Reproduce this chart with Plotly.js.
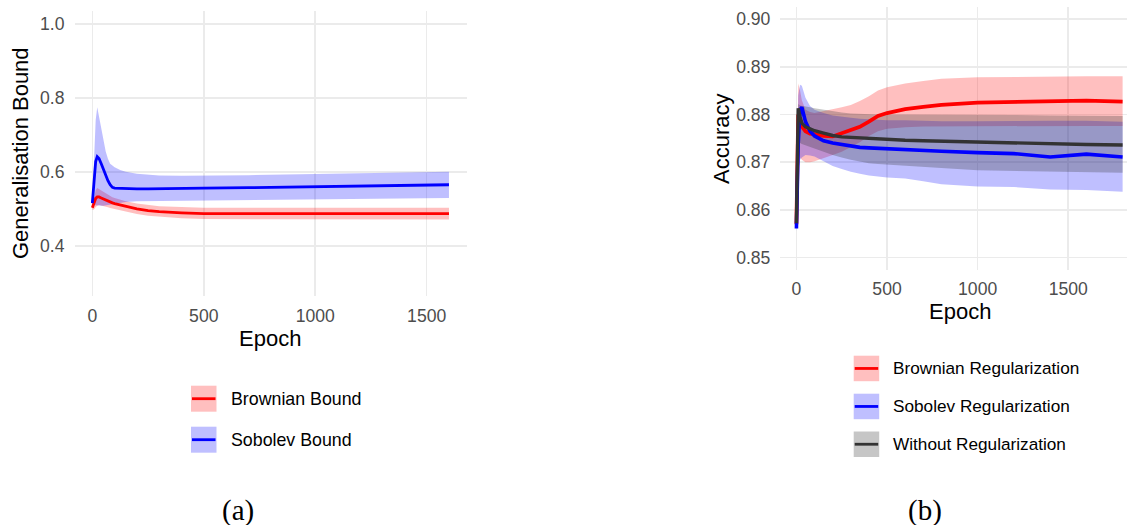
<!DOCTYPE html>
<html>
<head>
<meta charset="utf-8">
<script src="https://cdn.plot.ly/plotly-3.0.1.min.js"></script>
<style>
html,body{margin:0;padding:0;background:#fff;}
#chart{width:1127px;height:525px;}
</style>
</head>
<body>
<div id="chart"></div>
<script>
// ---------- Panel (a): generalisation bounds ----------
const epochsA = [0, 5, 10, 15, 22, 30, 40, 50, 60, 70, 80, 90, 100, 125, 150, 200, 250, 300, 400, 500, 700, 1000, 1300, 1600];
const brownBound   = [0.503, 0.510, 0.520, 0.528, 0.532, 0.532, 0.529, 0.526, 0.523, 0.520, 0.518, 0.516, 0.514, 0.510, 0.506, 0.500, 0.495, 0.492, 0.489, 0.487, 0.487, 0.487, 0.487, 0.487];
const brownBoundHi = [0.508, 0.525, 0.540, 0.550, 0.556, 0.553, 0.548, 0.544, 0.540, 0.537, 0.534, 0.531, 0.529, 0.524, 0.520, 0.514, 0.510, 0.507, 0.505, 0.503, 0.503, 0.503, 0.503, 0.503];
const brownBoundLo = [0.497, 0.497, 0.500, 0.505, 0.508, 0.510, 0.510, 0.508, 0.506, 0.504, 0.502, 0.500, 0.499, 0.496, 0.492, 0.486, 0.481, 0.478, 0.474, 0.472, 0.471, 0.471, 0.471, 0.471];
const sobBound     = [0.515, 0.560, 0.600, 0.628, 0.641, 0.636, 0.622, 0.605, 0.590, 0.576, 0.565, 0.558, 0.556, 0.555, 0.554, 0.554, 0.554, 0.554, 0.555, 0.556, 0.557, 0.560, 0.562, 0.565];
const sobBoundHi   = [0.520, 0.600, 0.680, 0.740, 0.775, 0.750, 0.710, 0.680, 0.655, 0.635, 0.622, 0.617, 0.612, 0.605, 0.600, 0.595, 0.592, 0.590, 0.589, 0.589, 0.591, 0.594, 0.597, 0.600];
const sobBoundLo   = [0.510, 0.510, 0.510, 0.510, 0.510, 0.509, 0.508, 0.508, 0.508, 0.509, 0.510, 0.511, 0.512, 0.515, 0.518, 0.520, 0.521, 0.521, 0.522, 0.522, 0.523, 0.525, 0.527, 0.529];

// ---------- Panel (b): accuracy ----------
const epochsB = [0, 10, 20, 30, 50, 75, 100, 150, 200, 250, 300, 350, 400, 450, 500, 600, 700, 800, 1000, 1200, 1400, 1600, 1800];
const brownAcc   = [0.8570, 0.8800, 0.8790, 0.8775, 0.8765, 0.8760, 0.8759, 0.8755, 0.8754, 0.8760, 0.8766, 0.8774, 0.8785, 0.8797, 0.8803, 0.8811, 0.8816, 0.8820, 0.8825, 0.8826, 0.8828, 0.8829, 0.8827];
const brownAccHi = [0.8585, 0.8865, 0.8850, 0.8830, 0.8810, 0.8805, 0.8803, 0.8807, 0.8810, 0.8815, 0.8820, 0.8828, 0.8838, 0.8850, 0.8857, 0.8865, 0.8870, 0.8875, 0.8878, 0.8879, 0.8880, 0.8880, 0.8880];
const brownAccLo = [0.8555, 0.8720, 0.8710, 0.8705, 0.8700, 0.8700, 0.8702, 0.8708, 0.8715, 0.8722, 0.8732, 0.8742, 0.8755, 0.8765, 0.8770, 0.8773, 0.8775, 0.8776, 0.8776, 0.8776, 0.8776, 0.8776, 0.8776];
const sobAcc     = [0.8561, 0.8740, 0.8810, 0.8815, 0.8785, 0.8765, 0.8755, 0.8745, 0.8740, 0.8737, 0.8735, 0.8731, 0.8730, 0.8729, 0.8728, 0.8727, 0.8725, 0.8723, 0.8720, 0.8718, 0.8711, 0.8717, 0.8711];
const sobAccHi   = [0.8570, 0.8840, 0.8862, 0.8860, 0.8835, 0.8818, 0.8810, 0.8803, 0.8798, 0.8795, 0.8793, 0.8791, 0.8790, 0.8789, 0.8788, 0.8788, 0.8787, 0.8786, 0.8786, 0.8787, 0.8787, 0.8787, 0.8785];
const sobAccLo   = [0.8552, 0.8680, 0.8705, 0.8710, 0.8715, 0.8714, 0.8712, 0.8702, 0.8692, 0.8686, 0.8680, 0.8676, 0.8672, 0.8670, 0.8668, 0.8666, 0.8660, 0.8654, 0.8649, 0.8648, 0.8643, 0.8642, 0.8638];
const noneAcc    = [0.8572, 0.8813, 0.8795, 0.8782, 0.8774, 0.8770, 0.8766, 0.8761, 0.8756, 0.8753, 0.8752, 0.8750, 0.8749, 0.8748, 0.8747, 0.8746, 0.8745, 0.8744, 0.8742, 0.8740, 0.8738, 0.8737, 0.8736];
const noneAccHi  = [0.8580, 0.8822, 0.8819, 0.8818, 0.8816, 0.8815, 0.8813, 0.8810, 0.8806, 0.8804, 0.8802, 0.8801, 0.8800, 0.8800, 0.8800, 0.8800, 0.8800, 0.8800, 0.8800, 0.8799, 0.8798, 0.8797, 0.8797];
const noneAccLo  = [0.8564, 0.8745, 0.8740, 0.8738, 0.8735, 0.8732, 0.8728, 0.8722, 0.8715, 0.8710, 0.8705, 0.8701, 0.8698, 0.8696, 0.8695, 0.8692, 0.8690, 0.8688, 0.8683, 0.8681, 0.8680, 0.8679, 0.8678];

// ---------- tick labels & names ----------
const ticksAx = [0, 500, 1000, 1500];
const ticksAy = [0.4, 0.6, 0.8, 1.0];
const ticksBx = [0, 500, 1000, 1500];
const ticksBy = [0.85, 0.86, 0.87, 0.88, 0.89, 0.90];
const legendA = ["Brownian Bound", "Sobolev Bound"];
const legendB = ["Brownian Regularization", "Sobolev Regularization", "Without Regularization"];
const captions = ["(a)", "(b)"];

// ---------- styles ----------
const W = 1127, H = 525;
const RED = "#FF0000", BLUE = "#0000FF", DARK = "#333333";
const RED_F = "rgba(255,0,0,0.25)", BLUE_F = "rgba(0,0,255,0.25)", GRAY_F = "rgba(51,51,51,0.28)";
const FONT = "Liberation Sans, Arial, Helvetica, sans-serif";
const SERIF = "Liberation Serif, DejaVu Serif, serif";
const px = v => v / W;
const py = v => 1 - v / H;

function band(x, lo, hi, color, xa, ya) {
  return {
    x: x.concat(x.slice().reverse()),
    y: hi.concat(lo.slice().reverse()),
    type: "scatter", mode: "lines", fill: "toself", fillcolor: color,
    line: {width: 0, color: "rgba(0,0,0,0)"}, hoverinfo: "skip", showlegend: false,
    xaxis: xa, yaxis: ya
  };
}
function line(x, y, color, w, name, xa, ya) {
  return {x: x, y: y, type: "scatter", mode: "lines", name: name,
    line: {color: color, width: w}, showlegend: false, xaxis: xa, yaxis: ya};
}

const data = [
  band(epochsA, brownBoundLo, brownBoundHi, RED_F, "x", "y"),
  band(epochsA, sobBoundLo, sobBoundHi, BLUE_F, "x", "y"),
  line(epochsA, brownBound, RED, 2.8, legendA[0], "x", "y"),
  line(epochsA, sobBound, BLUE, 2.8, legendA[1], "x", "y"),
  band(epochsB, brownAccLo, brownAccHi, RED_F, "x2", "y2"),
  band(epochsB, sobAccLo, sobAccHi, BLUE_F, "x2", "y2"),
  band(epochsB, noneAccLo, noneAccHi, GRAY_F, "x2", "y2"),
  line(epochsB, brownAcc, RED, 3.8, legendB[0], "x2", "y2"),
  line(epochsB, sobAcc, BLUE, 3.6, legendB[1], "x2", "y2"),
  line(epochsB, noneAcc, DARK, 3.4, legendB[2], "x2", "y2")
];

const axBase = {
  showgrid: true, gridcolor: "#ebebeb", gridwidth: 1.6, zeroline: false,
  showline: false, ticks: "", fixedrange: true,
  tickfont: {family: FONT, size: 17.6, color: "#4d4d4d"}
};

const shapes = [];
const annotations = [];
function legendItem(x0, y0, y1, fill, color, label, fs) {
  shapes.push({type: "rect", xref: "paper", yref: "paper", x0: px(x0), x1: px(x0 + 25.5),
    y0: py(y1), y1: py(y0), fillcolor: fill, line: {width: 0}, layer: "above"});
  const yc = (y0 + y1) / 2;
  shapes.push({type: "line", xref: "paper", yref: "paper", x0: px(x0 + 1), x1: px(x0 + 24.5),
    y0: py(yc), y1: py(yc), line: {color: color, width: 2.8}, layer: "above"});
  annotations.push({xref: "paper", yref: "paper", x: px(x0 + 37.5), y: py(yc), xanchor: "left", yanchor: "middle",
    text: label, showarrow: false, font: {family: FONT, size: fs, color: "#000"}});
}
legendItem(191, 385.7, 411.7, RED_F, RED, legendA[0], 17.8);
legendItem(191, 426.7, 452.7, BLUE_F, BLUE, legendA[1], 17.8);
legendItem(853.7, 355.7, 381.2, RED_F, RED, legendB[0], 17.2);
legendItem(853.7, 393.7, 419.2, BLUE_F, BLUE, legendB[1], 17.2);
legendItem(853.7, 431.5, 457, GRAY_F, DARK, legendB[2], 17.2);

function title(x, y, text, rot) {
  annotations.push({xref: "paper", yref: "paper", x: px(x), y: py(y), xanchor: "center", yanchor: "middle",
    text: text, showarrow: false, textangle: rot || 0, font: {family: FONT, size: 22, color: "#000"}});
}
title(270, 338, "Epoch");
title(21, 153, "Generalisation Bound", -90);
title(960, 311, "Epoch");
title(721, 139, "Accuracy", -90);

annotations.push({xref: "paper", yref: "paper", x: px(238), y: py(510), xanchor: "center", yanchor: "middle",
  text: captions[0], showarrow: false, font: {family: SERIF, size: 29, color: "#000"}});
annotations.push({xref: "paper", yref: "paper", x: px(925), y: py(510), xanchor: "center", yanchor: "middle",
  text: captions[1], showarrow: false, font: {family: SERIF, size: 29, color: "#000"}});

const layout = {
  width: W, height: H,
  margin: {l: 0, r: 0, t: 0, b: 0, pad: 0},
  paper_bgcolor: "#fff", plot_bgcolor: "rgba(0,0,0,0)",
  showlegend: false,
  font: {family: FONT},
  xaxis: Object.assign({}, axBase, {domain: [px(74.5), px(466.8)], range: [-80, 1680], tickvals: ticksAx,
    ticktext: ticksAx.map(String), anchor: "y", ticklabelstandoff: 8}),
  yaxis: Object.assign({}, axBase, {domain: [py(295.6), py(11.05)], range: [0.265, 1.035], tickvals: ticksAy,
    ticktext: ticksAy.map(v => v.toFixed(1)), anchor: "x", ticklabelstandoff: 9}),
  xaxis2: Object.assign({}, axBase, {domain: [px(780.4), 1], range: [-88.4, 1824.2], tickvals: ticksBx,
    ticktext: ticksBx.map(String), anchor: "y2", ticklabelstandoff: 7}),
  yaxis2: Object.assign({}, axBase, {domain: [py(269.6), py(7.07)], range: [0.8475, 0.9025], tickvals: ticksBy,
    ticktext: ticksBy.map(v => v.toFixed(2)), anchor: "x2", ticklabelstandoff: 9}),
  shapes: shapes,
  annotations: annotations
};

Plotly.newPlot("chart", data, layout, {staticPlot: true, displayModeBar: false});
</script>
</body>
</html>
